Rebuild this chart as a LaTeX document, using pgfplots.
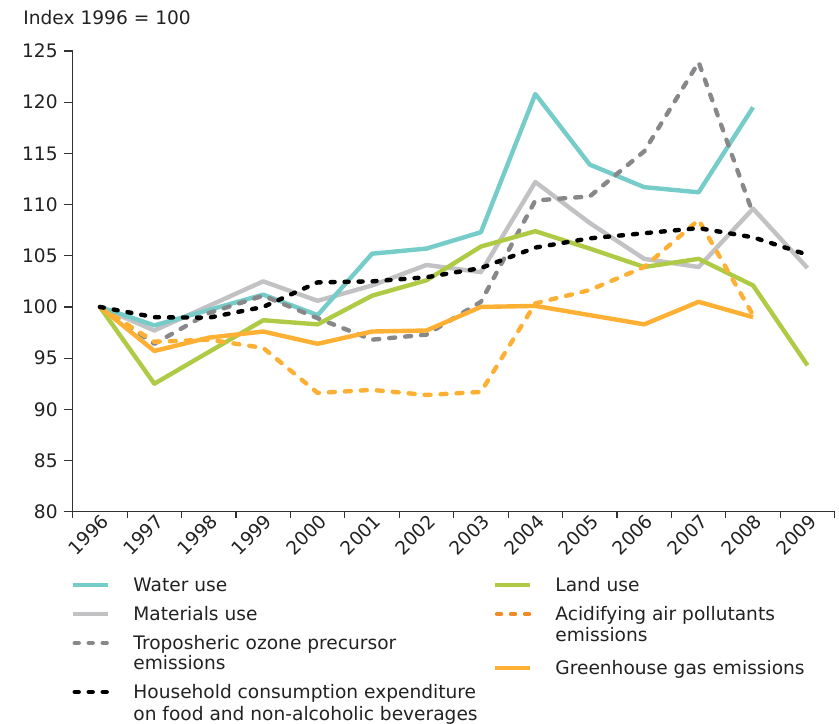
\documentclass[border=0pt]{standalone}
\usepackage{fontspec}
\setmainfont{DejaVu Sans}
\usepackage{pgfplots}
\pgfplotsset{compat=1.18}
\definecolor{cwater}{HTML}{76CCC8}
\definecolor{cmat}{HTML}{C2C2C4}
\definecolor{ctropo}{HTML}{88888A}
\definecolor{cland}{HTML}{AFCA45}
\definecolor{cghg}{HTML}{FDB033}
\definecolor{cacidleg}{HTML}{F08A24}
\definecolor{axisgray}{HTML}{333333}
\definecolor{txt}{HTML}{222222}
\begin{document}
\begin{tikzpicture}[font=\fontsize{9.3}{10.7}\selectfont, text=txt]
\begin{axis}[
  at={(0,0)}, anchor=south west, scale only axis,
  width=381pt, height=230.35pt,
  xmin=-0.5, xmax=13.5, ymin=80, ymax=125,
  axis x line=bottom, axis y line=left,
  axis line style={-, draw=axisgray, line width=0.6pt},
  xtick={0,1,2,3,4,5,6,7,8,9,10,11,12,13},
  xticklabels={1996,1997,1998,1999,2000,2001,2002,2003,2004,2005,2006,2007,2008,2009},
  major x tick style={draw=none},
  minor xtick={-0.5,0.5,...,13.5},
  minor x tick style={draw=axisgray, line width=0.6pt},
  minor tick length=3pt,
  ytick={80,85,...,125},
  major tick length=4.35pt,
  tick align=outside,
  major y tick style={draw=axisgray, line width=0.6pt},
  xticklabel style={rotate=45, anchor=east, inner sep=1pt, xshift=4pt, yshift=-1pt},
  yticklabel style={inner sep=1pt, xshift=-2pt},
  /pgf/number format/assume math mode=true,
  /pgf/number format/1000 sep={},
  clip=false,
  every axis plot/.append style={line width=2.2pt, line join=round},
]
\addplot[cmat] coordinates {(0,100)(1,97.7)(2,100.1)(3,102.5)(4,100.6)(5,102.1)(6,104.1)(7,103.4)(8,112.2)(9,108.2)(10,104.7)(11,103.9)(12,109.6)(13,103.8)};
\addplot[cwater] coordinates {(0,100)(1,98.2)(2,99.7)(3,101.2)(4,99.2)(5,105.2)(6,105.7)(7,107.3)(8,120.8)(9,113.9)(10,111.7)(11,111.2)(12,119.5)};
\addplot[ctropo, line cap=round, dash pattern=on 3pt off 5pt] coordinates {(0,100)(1,96.4)(2,99.4)(3,101.1)(4,98.9)(5,96.8)(6,97.3)(7,100.5)(8,110.4)(9,110.8)(10,115.2)(11,123.9)(12,109.1)};
\addplot[cland] coordinates {(0,100)(1,92.5)(2,95.6)(3,98.7)(4,98.3)(5,101.1)(6,102.6)(7,105.9)(8,107.4)(9,105.7)(10,103.9)(11,104.7)(12,102.1)(13,94.3)};
\addplot[cghg, line cap=round, dash pattern=on 3pt off 5pt] coordinates {(0,100)(1,96.6)(2,96.8)(3,96.0)(4,91.6)(5,91.9)(6,91.4)(7,91.7)(8,100.35)(9,101.65)(10,103.9)(11,108.5)(12,99.2)};
\addplot[cghg] coordinates {(0,100)(1,95.7)(2,97.0)(3,97.6)(4,96.4)(5,97.6)(6,97.7)(7,100.0)(8,100.1)(9,99.2)(10,98.3)(11,100.5)(12,99.0)};
\addplot[black, line cap=round, dash pattern=on 2pt off 5pt] coordinates {(0,100)(1,99.0)(2,98.95)(3,100.0)(4,102.4)(5,102.5)(6,102.9)(7,103.8)(8,105.8)(9,106.7)(10,107.2)(11,107.7)(12,106.8)(13,105.1)};
\end{axis}
% title
\node[anchor=base west, inner sep=0pt] at (-24.85pt,243.35pt) {Index 1996 = 100};
% legend (left column)
\begin{scope}[line width=2.2pt]
\draw[cwater] (0pt,-36.65pt) -- (17.6pt,-36.65pt);
\draw[cmat] (0pt,-51.15pt) -- (17.6pt,-51.15pt);
\draw[ctropo, line cap=round, dash pattern=on 2pt off 5pt] (1pt,-65.65pt) -- (17.6pt,-65.65pt);
\draw[black, line cap=round, dash pattern=on 2pt off 5pt] (1pt,-90.15pt) -- (17.6pt,-90.15pt);
\draw[cland] (211.15pt,-36.65pt) -- (228.65pt,-36.65pt);
\draw[cacidleg, line cap=round, dash pattern=on 2pt off 5pt] (212.15pt,-51.15pt) -- (228.65pt,-51.15pt);
\draw[cghg] (211.15pt,-78.15pt) -- (228.65pt,-78.15pt);
\end{scope}
\begin{scope}[every node/.style={anchor=base west, inner sep=0pt}]
\node at (30.15pt,-40.05pt) {Water use};
\node at (30.15pt,-54.55pt) {Materials use};
\node at (30.15pt,-69.05pt) {Troposheric ozone precursor};
\node at (30.15pt,-79.05pt) {emissions};
\node at (30.15pt,-93.55pt) {Household consumption expenditure};
\node at (30.15pt,-104.55pt) {on food and non-alcoholic beverages};
\node at (241.15pt,-40.05pt) {Land use};
\node at (241.15pt,-54.55pt) {Acidifying air pollutants};
\node at (241.15pt,-65.05pt) {emissions};
\node at (241.15pt,-81.55pt) {Greenhouse gas emissions};
\end{scope}
\pgfresetboundingbox
\useasboundingbox (-36.35pt,-105.65pt) rectangle (383.15pt,255.85pt);
\end{tikzpicture}
\end{document}
